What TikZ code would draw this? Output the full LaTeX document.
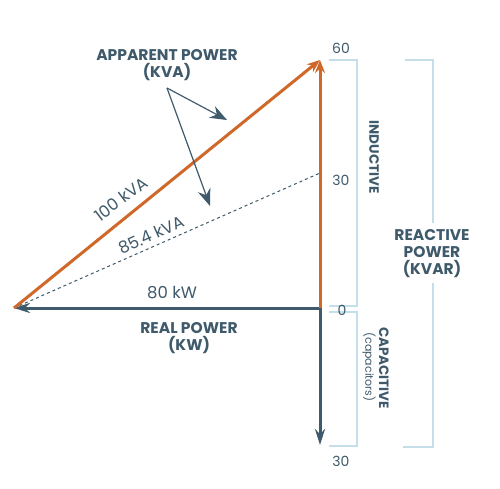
\documentclass[tikz,border=0pt]{standalone}
\usepackage{fontspec}
\setmainfont{Poppins}
\usetikzlibrary{arrows.meta}
\definecolor{orng}{HTML}{D0682A}
\definecolor{slate}{HTML}{3F5A6B}
\definecolor{lblue}{HTML}{C5DFEA}
\begin{document}
\begin{tikzpicture}[x=1pt,y=-1pt,
  vec/.style={line width=3pt},
  ovec/.style={vec,draw=orng,-{Stealth[length=13pt,width=10pt]}},
  svec/.style={vec,draw=slate,-{Stealth[length=16pt,width=10pt]}},
  brk/.style={draw=lblue,line width=1.3pt},
  ptr/.style={draw=slate,line width=1.2pt,-{Stealth[length=17pt,width=13pt]}},
  lbl/.style={text=slate,inner sep=1pt,font=\fontsize{16.5}{18}\selectfont},
  tick/.style={text=slate,inner sep=1pt,font=\fontsize{14}{16}\selectfont},
  head/.style={text=slate,inner sep=1pt,font=\fontsize{15.5}{17}\selectfont\bfseries,align=center},
  side/.style={text=slate,inner sep=1pt,font=\fontsize{13.5}{15}\selectfont\bfseries,rotate=-90}]
\useasboundingbox[fill=white] (0,0) rectangle (500,488);
% key points
\coordinate (L) at (14,308);
\coordinate (O) at (320,308);
\coordinate (T) at (320,60);
\coordinate (M) at (320,173);
\coordinate (B) at (320,445);
\coordinate (P) at (167,88);
\coordinate (P1) at (227,120);
\coordinate (P2) at (210,206);
% dashed
\draw[slate,line width=1pt,dash pattern=on 3pt off 3pt] (L) -- (M);
% vectors
\draw[svec] (O) -- (L);
\draw[svec] (O) -- (B);
\draw[ovec] (O) -- (T);
\draw[ovec] (L) -- (T);
% pointers
\draw[ptr] (P) -- (P1);
\draw[ptr] (P) -- (P2);
% brackets
\draw[brk] (329,60) -- (357,60) -- (357,306) -- (329,306);
\draw[brk] (329,312) -- (357,312) -- (357,446) -- (329,446);
\draw[brk] (405,60) -- (433,60) -- (433,223);
\draw[brk] (433,283) -- (433,447) -- (403,447);
% labels
\node[head] (ap) at (167,65) {APPARENT POWER\\(KVA)};
\node[head] (rp) at (189,338) {REAL POWER\\(KW)};
\node[head] (rq) at (432,254) {REACTIVE\\POWER\\(KVAR)};
\node[lbl,rotate=37] (l100) at (121,199) {100 kVA};
\node[lbl,rotate=24] (l85) at (151,235) {85.4 kVA};
\node[lbl] (l80) at (172,293) {80 kW};
\node[tick] (t60) at (341,48) {60};
\node[tick] (t30a) at (341,180) {30};
\node[tick] (t0) at (342,310) {0};
\node[tick] (t30b) at (341,461) {30};
\node[side] (ind) at (374,157) {INDUCTIVE};
\node[side] (cap) at (384,368) {CAPACITIVE};
\node[text=slate,inner sep=1pt,font=\fontsize{11}{12}\selectfont,rotate=-90] (capc) at (369,367) {(capacitors)};
\end{tikzpicture}
\end{document}
